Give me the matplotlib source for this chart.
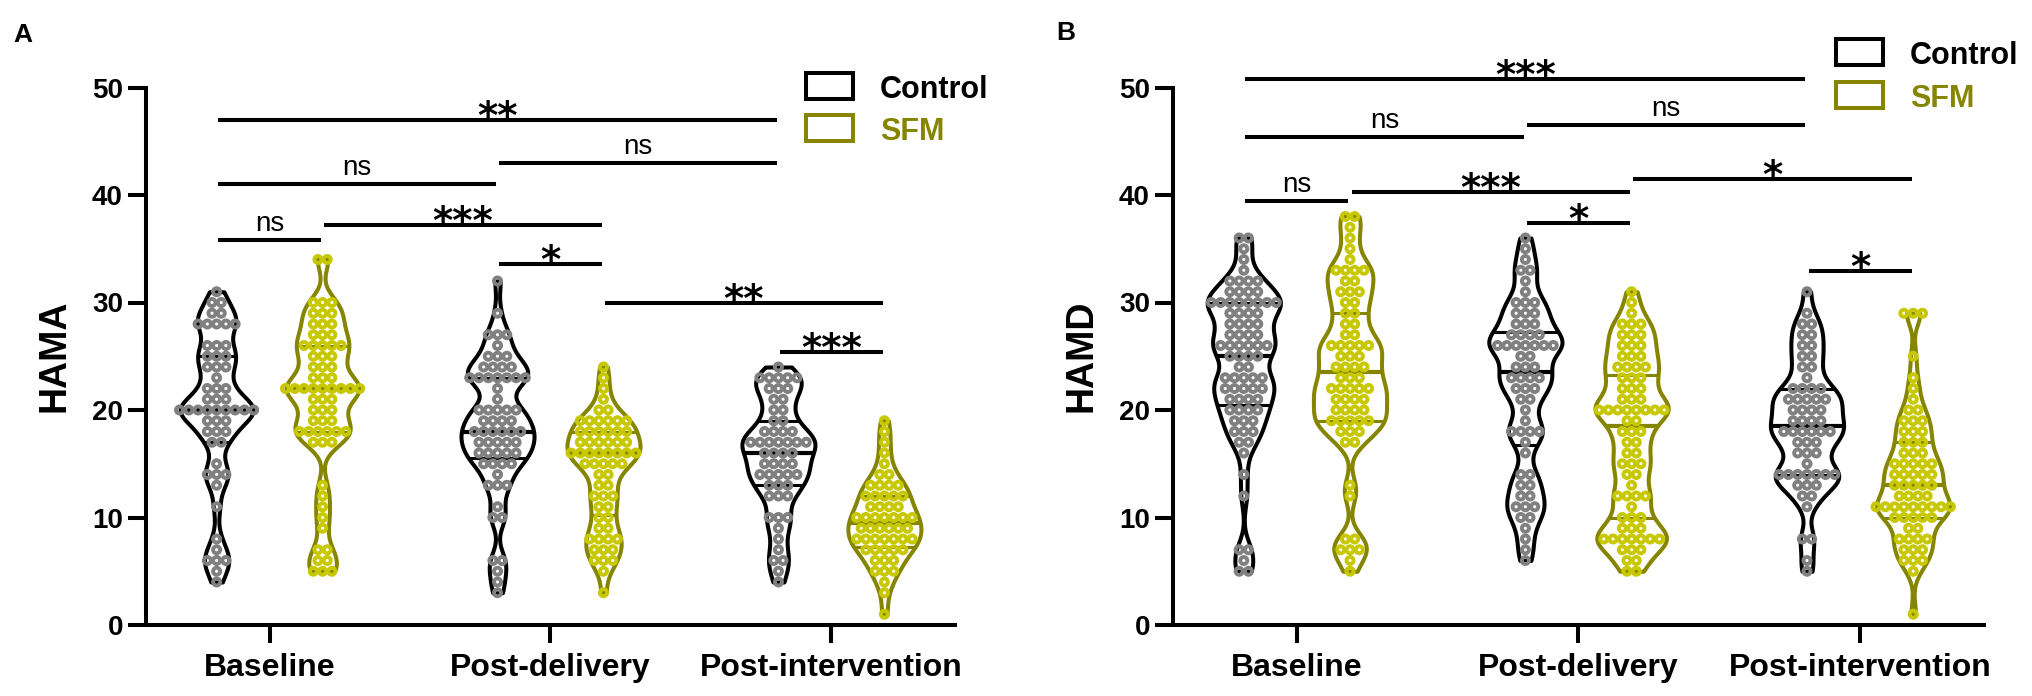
import numpy as np
import matplotlib
matplotlib.use("Agg")
import matplotlib.pyplot as plt
from matplotlib.patches import Rectangle

# ---------------- data ----------------
categories = ["Baseline", "Post-delivery", "Post-intervention"]
groups = ["Control", "SFM"]

# HAMA: score levels and number of subjects at each level
hama_base_ctrl_v = [31, 30, 29, 28, 26, 25, 24, 23, 22, 21, 20, 19, 18, 17, 15, 14, 13, 11, 8, 7, 6, 5, 4]
hama_base_ctrl_n = [1, 2, 2, 5, 3, 3, 3, 1, 3, 3, 9, 3, 3, 2, 1, 3, 1, 1, 1, 1, 3, 1, 1]
hama_base_sfm_v = [34, 30, 29, 28, 27, 26, 25, 24, 23, 22, 21, 20, 19, 18, 17, 13, 12, 11, 10, 9, 7, 6, 5]
hama_base_sfm_n = [2, 3, 3, 3, 3, 5, 3, 3, 3, 9, 3, 3, 3, 6, 3, 1, 1, 1, 1, 1, 2, 2, 3]
hama_pd_ctrl_v = [32, 29, 27, 26, 25, 24, 23, 22, 21, 20, 19, 18, 17, 16, 15, 14, 13, 11, 10, 6, 5, 4, 3]
hama_pd_ctrl_n = [1, 1, 3, 1, 3, 4, 7, 1, 1, 5, 4, 6, 5, 5, 4, 1, 3, 1, 2, 2, 1, 1, 1]
hama_pd_sfm_v = [24, 23, 22, 21, 20, 19, 18, 17, 16, 15, 14, 13, 12, 11, 10, 9, 8, 7, 6, 5, 3]
hama_pd_sfm_n = [1, 1, 1, 1, 2, 6, 6, 6, 8, 5, 2, 2, 3, 2, 2, 2, 4, 3, 3, 1, 1]
hama_pi_ctrl_v = [24, 23, 22, 21, 20, 19, 18, 17, 16, 15, 14, 13, 12, 10, 9, 8, 7, 6, 5, 4]
hama_pi_ctrl_n = [1, 5, 3, 2, 2, 2, 4, 7, 4, 4, 5, 3, 3, 3, 1, 1, 1, 2, 1, 1]
hama_pi_sfm_v = [19, 18, 17, 16, 15, 14, 13, 12, 11, 10, 9, 8, 7, 6, 5, 4, 3, 1]
hama_pi_sfm_n = [1, 1, 1, 1, 1, 2, 4, 5, 4, 7, 6, 7, 5, 3, 3, 1, 1, 1]

# HAMD
hamd_base_ctrl_v = [36, 35, 34, 33, 32, 31, 30, 29, 28, 27, 26, 25, 24, 23, 22, 21, 20, 19, 18, 17, 16, 14, 12, 7, 6, 5]
hamd_base_ctrl_n = [2, 1, 1, 1, 4, 4, 8, 4, 4, 4, 6, 4, 2, 5, 5, 4, 4, 3, 3, 2, 1, 1, 1, 2, 1, 2]
hamd_base_sfm_v = [38, 37, 36, 35, 34, 33, 32, 31, 30, 29, 28, 27, 26, 25, 24, 23, 22, 21, 20, 19, 18, 17, 13, 12, 8, 7, 6, 5]
hamd_base_sfm_n = [2, 1, 1, 1, 1, 4, 2, 3, 2, 2, 2, 2, 5, 3, 4, 3, 5, 4, 4, 5, 3, 2, 1, 1, 2, 3, 1, 1]
hamd_pd_ctrl_v = [36, 35, 34, 33, 32, 31, 30, 29, 28, 27, 26, 25, 24, 23, 22, 21, 20, 19, 18, 17, 16, 14, 13, 12, 11, 10, 9, 8, 7, 6]
hamd_pd_ctrl_n = [1, 1, 1, 2, 1, 1, 3, 3, 3, 4, 7, 2, 3, 4, 3, 2, 1, 1, 4, 1, 1, 2, 2, 2, 3, 2, 1, 1, 1, 1]
hamd_pd_sfm_v = [31, 30, 29, 28, 27, 26, 25, 24, 23, 22, 21, 20, 19, 18, 17, 16, 15, 14, 13, 12, 11, 10, 9, 8, 7, 6, 5]
hamd_pd_sfm_n = [1, 1, 1, 3, 3, 3, 3, 4, 3, 3, 3, 8, 2, 3, 2, 2, 3, 2, 1, 4, 1, 3, 3, 7, 3, 2, 2]
hamd_pi_ctrl_v = [31, 29, 28, 27, 26, 25, 24, 23, 22, 21, 20, 19, 18, 17, 16, 15, 14, 13, 12, 11, 8, 6, 5]
hamd_pi_ctrl_n = [1, 1, 2, 2, 2, 2, 2, 1, 4, 5, 4, 4, 6, 3, 3, 1, 7, 3, 2, 1, 2, 1, 1]
hamd_pi_sfm_v = [29, 25, 23, 22, 21, 20, 19, 18, 17, 16, 15, 14, 13, 12, 11, 10, 9, 8, 7, 6, 5, 1]
hamd_pi_sfm_n = [3, 1, 1, 1, 1, 2, 3, 3, 3, 3, 5, 5, 5, 4, 9, 5, 2, 4, 3, 3, 1, 1]

# significance brackets: (category, group) -> (category, group), bar height, label
hama_sig = [
    ((0, 0), (2, 0), 47.0, "**"),
    ((0, 0), (1, 0), 41.0, "ns"),
    ((1, 0), (2, 0), 43.0, "ns"),
    ((0, 0), (0, 1), 35.8, "ns"),
    ((0, 1), (1, 1), 37.2, "***"),
    ((1, 0), (1, 1), 33.6, "*"),
    ((1, 1), (2, 1), 30.0, "**"),
    ((2, 0), (2, 1), 25.4, "***"),
]
hamd_sig = [
    ((0, 0), (2, 0), 50.8, "***"),
    ((0, 0), (1, 0), 45.4, "ns"),
    ((1, 0), (2, 0), 46.5, "ns"),
    ((0, 0), (0, 1), 39.4, "ns"),
    ((0, 1), (1, 1), 40.3, "***"),
    ((1, 0), (1, 1), 37.4, "*"),
    ((1, 1), (2, 1), 41.5, "*"),
    ((2, 0), (2, 1), 32.9, "*"),
]

# ---------------- style ----------------
W, H = 2033, 696
FONT = "Liberation Sans"
ctrl_line, sfm_line = "black", "#858500"
ctrl_pt, sfm_pt = "#808080", "#c8c800"
GROUP_OFF = 0.1886
HALF_W = 0.13
DX = 0.033
LW = 2.9

plt.rcParams["font.family"] = [FONT, "DejaVu Sans"]

fig = plt.figure(figsize=(W / 100, H / 100), dpi=100)


def expand(v, n):
    return np.repeat(np.asarray(v, float), n)


def xpos(cg):
    c, g = cg
    return c + (GROUP_OFF if g == 1 else -GROUP_OFF)


def draw_violin(ax, data, xc, lcol, pcol):
    grid = np.linspace(data.min(), data.max(), 300)
    h = 1.1
    d = np.exp(-0.5 * ((grid[:, None] - data[None, :]) / h) ** 2).sum(1)
    w = d / d.max() * HALF_W
    ax.fill_betweenx(grid, xc - w, xc + w, facecolor="white", edgecolor=lcol,
                     linewidth=LW, zorder=2)
    q1, med, q3 = np.percentile(data, [25, 50, 75])
    for q, lw in ((q1, 2.2), (med, 3.0), (q3, 2.2)):
        wq = np.interp(q, grid, w)
        ax.plot([xc - wq, xc + wq], [q, q], color=lcol, lw=lw, zorder=3,
                solid_capstyle="butt")
    vals, cnts = np.unique(data, return_counts=True)
    xs, ys = [], []
    for v, n in zip(vals, cnts):
        off = (np.arange(n) - (n - 1) / 2) * DX
        xs.extend(xc + off)
        ys.extend([v] * n)
    ax.scatter(xs, ys, s=26, facecolors="none", edgecolors=pcol,
               linewidths=2.8, zorder=4)


def setup_panel(rect, panel_data, sig, ylabel):
    ax = fig.add_axes(rect)
    for c in range(3):
        for g in range(2):
            data = panel_data[c][g]
            lcol = ctrl_line if g == 0 else sfm_line
            pcol = ctrl_pt if g == 0 else sfm_pt
            draw_violin(ax, data, xpos((c, g)), lcol, pcol)
    ax.set_xlim(-0.44, 2.44)
    ax.set_ylim(0, 50)
    for s in ("top", "right"):
        ax.spines[s].set_visible(False)
    for s in ("left", "bottom"):
        ax.spines[s].set_linewidth(LW)
    ax.set_yticks(range(0, 51, 10))
    ax.set_xticks(range(3))
    ax.set_xticklabels(categories, fontsize=23, fontweight="bold")
    for t in ax.get_yticklabels():
        t.set_fontsize(20)
        t.set_fontweight("bold")
    ax.tick_params(axis="both", length=13, width=LW, direction="out")
    ax.tick_params(axis="y", pad=3.6)
    ax.tick_params(axis="x", pad=7)
    ax.set_ylabel(ylabel, fontsize=27, fontweight="bold")
    ax.yaxis.set_label_coords(-0.091, 0.5)
    for a, b, y, lab in sig:
        x1, x2 = xpos(a) + 0.006, xpos(b) - 0.006
        ax.plot([x1, x2], [y, y], color="black", lw=LW, clip_on=False,
                solid_capstyle="butt", zorder=5)
        if lab == "ns":
            ax.annotate(lab, xy=((x1 + x2) / 2, y), xytext=(0, 6.5),
                        textcoords="offset points", ha="center", va="baseline",
                        fontsize=20, annotation_clip=False)
        else:
            ax.annotate(lab, xy=((x1 + x2) / 2, y), xytext=(0, -6.5),
                        textcoords="offset points", ha="center", va="baseline",
                        fontsize=28, family="DejaVu Sans", fontweight="bold",
                        annotation_clip=False)
    return ax


hama = [
    [expand(hama_base_ctrl_v, hama_base_ctrl_n), expand(hama_base_sfm_v, hama_base_sfm_n)],
    [expand(hama_pd_ctrl_v, hama_pd_ctrl_n), expand(hama_pd_sfm_v, hama_pd_sfm_n)],
    [expand(hama_pi_ctrl_v, hama_pi_ctrl_n), expand(hama_pi_sfm_v, hama_pi_sfm_n)],
]
hamd = [
    [expand(hamd_base_ctrl_v, hamd_base_ctrl_n), expand(hamd_base_sfm_v, hamd_base_sfm_n)],
    [expand(hamd_pd_ctrl_v, hamd_pd_ctrl_n), expand(hamd_pd_sfm_v, hamd_pd_sfm_n)],
    [expand(hamd_pi_ctrl_v, hamd_pi_ctrl_n), expand(hamd_pi_sfm_v, hamd_pi_sfm_n)],
]

bottom = (H - 625) / H
height = (625 - 87.5) / H
setup_panel([146 / W, bottom, 809 / W, height], hama, hama_sig, "HAMA")
setup_panel([1173 / W, bottom, 811 / W, height], hamd, hamd_sig, "HAMD")

# panel letters
fig.text(13 / W, 1 - 42 / H, "A", fontsize=19, fontweight="bold", va="baseline")
fig.text(1056 / W, 1 - 40 / H, "B", fontsize=19, fontweight="bold", va="baseline")


# legends
def legend(xbox, rows):
    for (name, ecol, tcol), yc in zip(
            [("Control", "black", "black"), ("SFM", sfm_line, sfm_line)], rows):
        fig.add_artist(Rectangle((xbox / W, 1 - (yc + 12.5) / H), 47 / W, 25 / H,
                                 transform=fig.transFigure, fill=False,
                                 edgecolor=ecol, linewidth=LW))
        fig.text((xbox + 74) / W, 1 - (yc + 12) / H, name, fontsize=22,
                 fontweight="bold", color=tcol, va="baseline")


legend(806, (86, 128))
legend(1836, (52, 95))

fig.savefig("out.png", dpi=100)
